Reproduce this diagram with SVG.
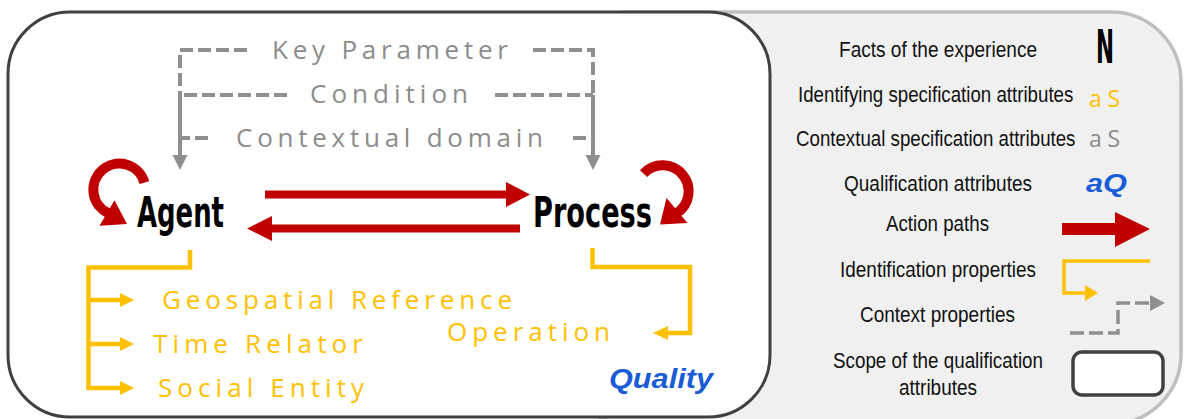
<svg xmlns="http://www.w3.org/2000/svg" width="1184" height="419" viewBox="0 0 1184 419">
<style>
.ctx{font-family:"Open Sans","Noto Sans",sans-serif;font-size:26px;fill:#8c8c8c}
.idt{font-family:"Open Sans","Noto Sans",sans-serif;font-size:26px;fill:#ffc000}
.node{font-family:"Liberation Sans Narrow","DejaVu Sans Condensed","Liberation Sans",sans-serif;font-weight:bold;font-size:42px;fill:#000}
.qual{font-family:"Liberation Sans",Arial,sans-serif;font-weight:bold;font-style:italic;fill:#1a5cd6}
.leg{font-family:"Liberation Sans",Arial,sans-serif;font-size:22px;fill:#111}
.dash{fill:none;stroke:#8f8f8f;stroke-width:4;stroke-dasharray:13 5}
.gsolid{fill:none;stroke:#8f8f8f;stroke-width:4}
.ylw{fill:none;stroke:#ffc000;stroke-width:4.5;stroke-linejoin:miter}
.ylwh{fill:#ffc000}
.gh{fill:#8f8f8f}
.red{fill:#c00000}
.loop{fill:none;stroke:#c00000;stroke-width:10}
</style>

<g id="legend-panel">
<rect x="560" y="12" width="621" height="412" rx="70" fill="#f0f0f0" stroke="#bfbfbf" stroke-width="3.5"/>
</g>

<g id="scope-box">
<rect x="8" y="12" width="762" height="405" rx="62" fill="#ffffff" stroke="#404040" stroke-width="3"/>
</g>

<g id="connectors">
<path class="dash" d="M247 50 H180 V95"/>
<path class="dash" d="M287 95 H180"/>
<path class="dash" d="M208 138 H180"/>
<path class="gsolid" d="M180 95 V156"/>
<polygon class="gh" points="172.5,155 187.5,155 180,170"/>
<path class="dash" d="M533 50 H593 V95"/>
<path class="dash" d="M495 95 H593"/>
<path class="dash" d="M573 138 H593"/>
<path class="gsolid" d="M593 95 V156"/>
<polygon class="gh" points="585.5,155 600.5,155 593,170"/>
<polygon class="red" points="265,190.5 506,190.5 506,182 530,194.5 506,207 506,198.5 265,198.5"/>
<polygon class="red" points="520,224.5 272,224.5 272,216 247,228.5 272,241 272,232.5 520,232.5"/>
<path class="loop" d="M144.4 182.6 A26 26 0 1 0 108 213"/>
<polygon class="red" points="99.5,225.8 114.5,200.2 127,224"/>
<path class="loop" d="M643.6 173.6 A26 26 0 1 1 677 213"/>
<polygon class="red" points="687.5,223 666.5,198 660,224.5"/>
<path class="ylw" d="M190 250 V267.5 H88.5 V388"/>
<path class="ylw" d="M88.5 300 H122"/>
<path class="ylw" d="M88.5 344 H122"/>
<path class="ylw" d="M86.3 388 H122"/>
<polygon class="ylwh" points="120,293 134,300 120,307"/>
<polygon class="ylwh" points="120,337 134,344 120,351"/>
<polygon class="ylwh" points="120,381 134,388 120,395"/>
<path class="ylw" d="M592.5 248 V267 H690 V333 H667"/>
<polygon class="ylwh" points="668,326 653,333 668,340"/>
</g>

<g id="context-attributes">
<text class="ctx" x="272" y="59" textLength="236">Key Parameter</text>
<text class="ctx" x="310" y="103" textLength="158">Condition</text>
<text class="ctx" x="236" y="147" textLength="307">Contextual domain</text>
</g>

<g id="agent">
<text class="node" x="137" y="227" textLength="87" lengthAdjust="spacingAndGlyphs">Agent</text>
</g>
<g id="process">
<text class="node" x="533" y="227" textLength="119" lengthAdjust="spacingAndGlyphs">Process</text>
</g>

<g id="identification-attributes">
<text class="idt" x="162" y="309" textLength="350">Geospatial Reference</text>
<text class="idt" x="153" y="353" textLength="210">Time Relator</text>
<text class="idt" x="158" y="397" textLength="206">Social Entity</text>
<text class="idt" x="447" y="341" textLength="163">Operation</text>
</g>

<g id="quality">
<text class="qual" x="609" y="388" font-size="28" textLength="104" lengthAdjust="spacingAndGlyphs">Quality</text>
</g>

<g id="legend">
<text class="leg" x="839" y="57" textLength="198" lengthAdjust="spacingAndGlyphs">Facts of the experience</text>
<text x="1096" y="63" font-family="Liberation Sans Narrow,DejaVu Sans Condensed,sans-serif" font-weight="bold" font-size="46" textLength="18" lengthAdjust="spacingAndGlyphs">N</text>
<text class="leg" transform="translate(798 102) scale(0.85 1)" x="0" y="0">Identifying specification attributes</text>
<text x="1089" y="107" font-family="Open Sans,Noto Sans,sans-serif" font-size="23" fill="#ffc000" textLength="31">a S</text>
<text class="leg" transform="translate(796 146) scale(0.85 1)" x="0" y="0">Contextual specification attributes</text>
<text x="1089" y="147" font-family="Open Sans,Noto Sans,sans-serif" font-size="23" fill="#8c8c8c" textLength="31">a S</text>
<text class="leg" x="844" y="191" textLength="188" lengthAdjust="spacingAndGlyphs">Qualification attributes</text>
<text class="qual" x="1086" y="192" font-size="26" textLength="41" lengthAdjust="spacingAndGlyphs">aQ</text>
<text class="leg" x="886" y="231" textLength="103" lengthAdjust="spacingAndGlyphs">Action paths</text>
<polygon class="red" points="1062,223 1115,223 1115,212 1150,229 1115,247 1115,235 1062,235"/>
<text class="leg" x="840" y="277" textLength="196" lengthAdjust="spacingAndGlyphs">Identification properties</text>
<path fill="none" stroke="#ffc000" stroke-width="3.5" d="M1150 261 H1064 V293 H1087"/>
<polygon class="ylwh" points="1085,285 1098,293 1085,301"/>
<text class="leg" x="860" y="322" textLength="155" lengthAdjust="spacingAndGlyphs">Context properties</text>
<path fill="none" stroke="#8f8f8f" stroke-width="3.5" stroke-dasharray="14 5" d="M1070 333 H1118 V303 H1151"/>
<polygon class="gh" points="1150,295 1165,303 1150,311"/>
<text class="leg" x="833" y="368" textLength="210" lengthAdjust="spacingAndGlyphs">Scope of the qualification</text>
<text class="leg" x="899" y="395" textLength="78" lengthAdjust="spacingAndGlyphs">attributes</text>
<rect x="1073" y="352" width="90" height="43" rx="9" fill="#ffffff" stroke="#404040" stroke-width="3.5"/>
</g>
</svg>
